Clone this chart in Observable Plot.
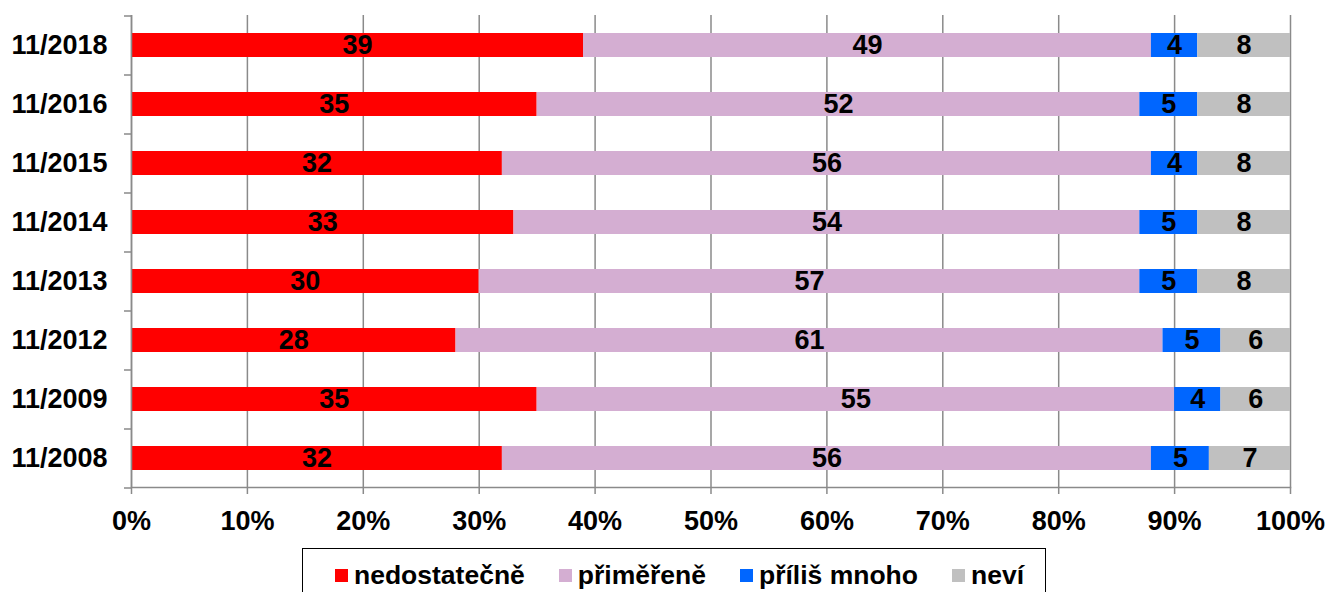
<!DOCTYPE html>
<html>
<head>
<meta charset="utf-8">
<script src="https://cdn.jsdelivr.net/npm/d3@7"></script>
<script src="https://cdn.jsdelivr.net/npm/@observablehq/plot@0.6"></script>
<style>
  body { margin: 0; background: #fff; font-family: "Liberation Sans", Arial, sans-serif; }
  #chart svg { display: block; }
  .legend {
    margin-left: 302px; margin-top: 8px; width: 744px; height: 54px;
    border: 1.5px solid #000; box-sizing: border-box;
    display: flex; align-items: center; padding-left: 32px; gap: 34px;
    font-weight: bold; font-size: 26.5px; color: #000;
  }
  .legend .item { display: flex; align-items: center; gap: 6px; }
  .legend .sw { width: 13px; height: 13px; display: inline-block; }
</style>
</head>
<body>
<div id="chart"></div>
<script>
const years = ["11/2018","11/2016","11/2015","11/2014","11/2013","11/2012","11/2009","11/2008"];
const series = ["nedostatečně","přiměřeně","příliš mnoho","neví"];
const nedostatecne = [39,35,32,33,30,28,35,32];
const primerene    = [49,52,56,54,57,61,55,56];
const prilisMnoho  = [4,5,4,5,5,5,4,5];
const nevi         = [8,8,8,8,8,6,6,7];
const colors = ["#ff0000","#d4aed2","#0066ff","#c0c0c0"];
const xTicks = [0,10,20,30,40,50,60,70,80,90,100];

const seriesValues = [nedostatecne, primerene, prilisMnoho, nevi];
const data = [];
years.forEach((y, i) => {
  series.forEach((s, j) => data.push({year: y, series: s, value: seriesValues[j][i]}));
});

const gridColor = "#8a8a8a";
const font = {fontSize: 27, fontWeight: "bold", fontFamily: "Liberation Sans, Arial, sans-serif"};

const plot = Plot.plot({
  width: 1328,
  height: 540,
  marginLeft: 131,
  marginRight: 38,
  marginTop: 15,
  marginBottom: 53,
  style: {fontSize: "27px", fontWeight: "bold", fontFamily: "Liberation Sans, Arial, sans-serif", color: "#000", background: "#fff"},
  x: {domain: [0, 100], label: null},
  y: {domain: years, paddingInner: 0.6, paddingOuter: 0.3, label: null},
  color: {domain: series, range: colors},
  marks: [
    Plot.gridX(xTicks, {stroke: gridColor, strokeOpacity: 1, strokeWidth: 1.5}),
    Plot.barX(data, {x: "value", y: "year", fill: "series", order: series}),
    Plot.text(data, Plot.stackX({x: "value", y: "year", z: "series", order: series, text: d => String(d.value), fill: "#000", ...font})),
    Plot.ruleX([0], {stroke: gridColor, strokeWidth: 1.5}),
    Plot.frame({anchor: "bottom", stroke: gridColor, strokeWidth: 1.5}),
    Plot.axisX(xTicks, {label: null, tickFormat: d => d + "%", tickSize: 7, tickPadding: 16, stroke: gridColor, strokeWidth: 1.5, fill: "#000", ...font}),
    Plot.axisY({label: null, tickSize: 0, tickPadding: 24, fill: "#000", ...font}),
    Plot.axisY({label: null, tickSize: 7, tickFormat: () => "", dy: 29.5, stroke: gridColor, strokeWidth: 1.5}),
    Plot.axisY([years[0]], {label: null, tickSize: 7, tickFormat: () => "", dy: -29.5, stroke: gridColor, strokeWidth: 1.5})
  ]
});
const chart = document.getElementById("chart");
chart.appendChild(plot);

const legend = document.createElement("div");
legend.className = "legend";
series.forEach((s, i) => {
  const item = document.createElement("span");
  item.className = "item";
  const sw = document.createElement("span");
  sw.className = "sw";
  sw.style.background = colors[i];
  const t = document.createElement("span");
  t.textContent = s;
  item.appendChild(sw);
  item.appendChild(t);
  legend.appendChild(item);
});
chart.appendChild(legend);
</script>
</body>
</html>
